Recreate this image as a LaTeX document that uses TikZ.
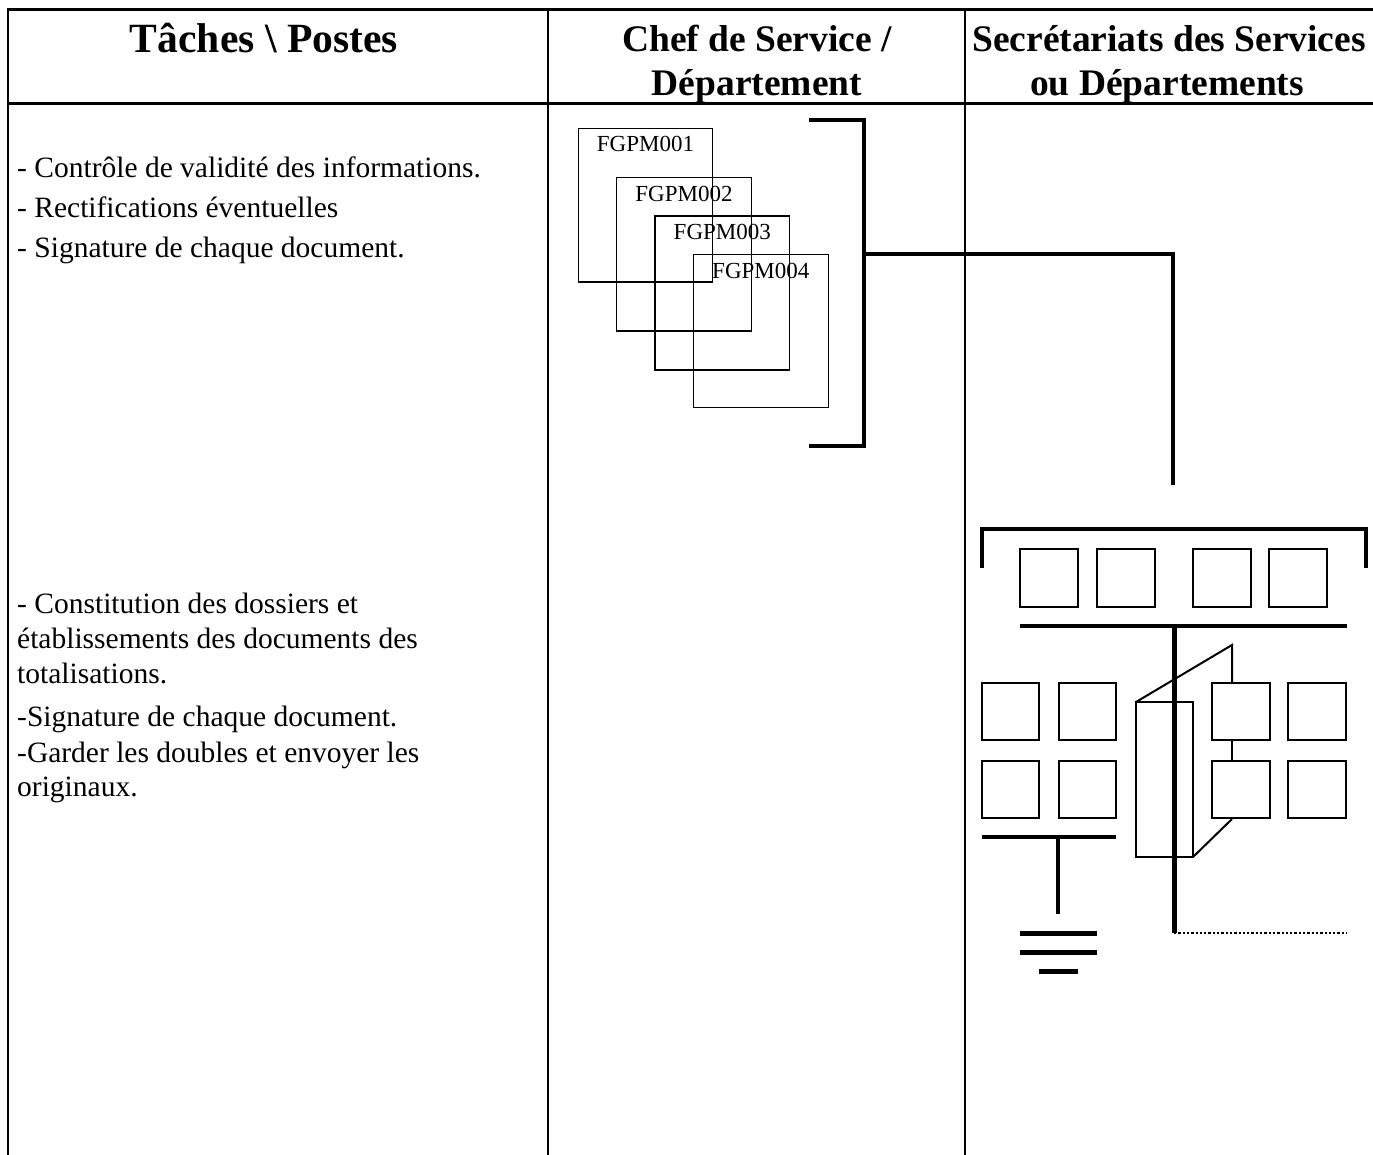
\documentclass[tikz,border=0pt]{standalone}
\usepackage{fontspec}
\setmainfont{Liberation Serif}
\begin{document}
\begin{tikzpicture}[x=1pt,y=-1pt,
  rule/.style={line width=1.5pt},
  frame/.style={line width=3pt},
  heavy/.style={line width=4.5pt},
  doc/.style={line width=1.2pt},
  cell/.style={line width=2pt},
  thincell/.style={line width=1.3pt},
  head/.style={font=\fontsize{37.5}{43}\selectfont\bfseries, anchor=base, inner sep=0pt},
  bighead/.style={font=\fontsize{41.6}{48}\selectfont\bfseries, anchor=base, inner sep=0pt},
  task/.style={font=\fontsize{29.5}{35}\selectfont, anchor=base west, inner sep=0pt},
  doclabel/.style={font=\fontsize{23}{27}\selectfont, anchor=base, inner sep=0pt}]
\useasboundingbox (0,0) rectangle (1373,1155);

% table frame
\draw[frame] (8,9.5) -- (1373,9.5);
\draw[frame] (8,104) -- (1373,104);
\draw[cell] (8,8) -- (8,1155);
\draw[rule] (548,9.5) -- (548,1155);
\draw[rule] (965,9.5) -- (965,1155);

% header
\node[bighead] (h1) at (264,53) {Tâches \textbackslash{} Postes};
\node[head] (h2a) at (757,52) {Chef de Service /};
\node[head] (h2b) at (757,96) {Département};
\node[head] (h3a) at (1169,52) {Secrétariats des Services};
\node[head] (h3b) at (1167,96) {ou Départements};

% tasks
\node[task] (t1) at (17,178) {- Contrôle de validité des informations.};
\node[task] (t2) at (17,218) {- Rectifications éventuelles};
\node[task] (t3) at (17,258) {- Signature de chaque document.};
\node[task] (t4) at (17,613) {- Constitution des dossiers et};
\node[task] (t5) at (17,648) {établissements des documents des};
\node[task] (t6) at (17,683) {totalisations.};
\node[task] (t7) at (17,726) {-Signature de chaque document.};
\node[task] (t8) at (17,762) {-Garder les doubles et envoyer les};
\node[task] (t9) at (17,796) {originaux.};

% stacked forms
\draw[doc] (578.3,128.3) rectangle (712.7,282);
\draw[doc] (616.7,177.7) rectangle (751.3,331);
\draw[doc] (655,216) rectangle (789.7,370);
\draw[doc] (693.3,254.3) rectangle (828.3,407.7);
\node[doclabel] (f1) at (645.5,151.7) {FGPM001};
\node[doclabel] (f2) at (684,201.7) {FGPM002};
\node[doclabel] (f3) at (722.3,240) {FGPM003};
\node[doclabel] (f4) at (760.8,278.3) {FGPM004};

% bracket and link to the secretariat
\draw[heavy] (809,120) -- (864,120) -- (864,446) -- (809,446);
\coordinate (bmid) at (864,254);
\coordinate (drop) at (1173,485);
\draw[heavy] (bmid) -| (drop);

% secretariat: top group
\draw[heavy] (982,568) -- (982,529) -- (1366,529) -- (1366,568);
\foreach \x in {1020,1097,1193,1269}
  \draw[cell] (\x,549) rectangle ++(58,58);
\draw[line width=4pt] (1020,626) -- (1347,626);
\coordinate (trunk) at (1174,626);
\coordinate (trunkend) at (1174,933);
\coordinate (dotend) at (1347,933);

% lower boxes, left pair
\foreach \x in {982,1059}
  \foreach \y in {683,761}
    \draw[thincell] (\x,\y) rectangle ++(57,57);

% folded panel
\draw[cell] (1136,702) rectangle (1193,857);
\draw[cell] (1232,683) -- (1232,645) -- (1136,702);
\draw[cell] (1193,857) -- (1232,819);
\draw[cell] (1232,741) -- (1232,761);

% lower boxes, right pair
\foreach \x in {1212,1288}
  \foreach \y in {683,761}
    \draw[line width=2.5pt] (\x,\y) rectangle ++(58,57);

% main trunk and dotted continuation
\draw[line width=5pt] (trunk) -- (trunkend);
\draw[line width=2.5pt, dash pattern=on 2.3pt off 2pt] (trunkend) -- (dotend);

% earth symbol
\draw[heavy] (982,837) -- (1116,837);
\draw[heavy] (1058,837) -- (1058,914);
\draw[line width=5pt] (1020,933) -- (1097,933);
\draw[line width=5pt] (1020,952) -- (1097,952);
\draw[line width=5pt] (1039,971) -- (1078,971);
\end{tikzpicture}
\end{document}
